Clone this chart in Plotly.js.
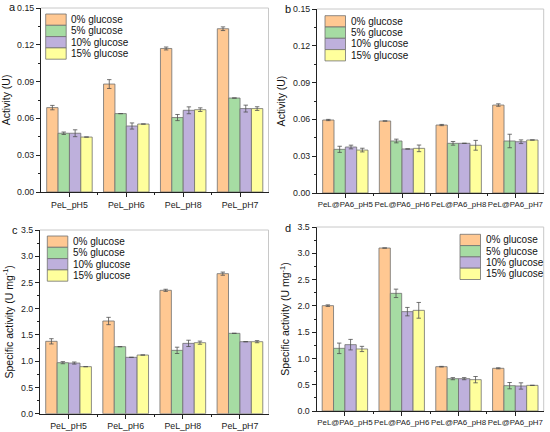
<!DOCTYPE html>
<html><head><meta charset="utf-8">
<script src="https://cdn.plot.ly/plotly-3.0.1.min.js"></script>
<style>html,body{margin:0;padding:0;background:#fff}</style>
</head><body><div id="chart" style="width:550px;height:432px"></div>
<script>
const seriesNames = ['0% glucose','5% glucose','10% glucose','15% glucose'];
const seriesColors = ['#FFC892','#A6DCA3','#BEB0DC','#FFFF9C'];
const catsFree = ['PeL_pH5','PeL_pH6','PeL_pH8','PeL_pH7'];
const catsImm = ['PeL@PA6_pH5','PeL@PA6_pH6','PeL@PA6_pH8','PeL@PA6_pH7'];

// Panel a: Activity (U), free PeL
const a_g0 = [0.0688,0.0880,0.1170,0.1331];
const a_g0e = [0.0018,0.0036,0.0012,0.0015];
const a_g5 = [0.0479,0.0639,0.0607,0.0766];
const a_g5e = [0.0010,null,0.0025,null];
const a_g10 = [0.0479,0.0538,0.0666,0.0680];
const a_g10e = [0.0028,0.0025,0.0028,0.0028];
const a_g15 = [0.0448,0.0554,0.0671,0.0680];
const a_g15e = [null,null,0.0015,0.0015];

// Panel b: Activity (U), PeL@PA6
const b_g0 = [0.0595,0.0587,0.0554,0.0717];
const b_g0e = [0.0005,null,0.0005,0.0010];
const b_g5 = [0.0356,0.0424,0.0405,0.0424];
const b_g5e = [0.0025,0.0015,0.0015,0.0055];
const b_g10 = [0.0375,0.0359,0.0405,0.0418];
const b_g10e = [0.0015,null,null,0.0015];
const b_g15 = [0.0350,0.0364,0.0389,0.0432];
const b_g15e = [0.0015,0.0027,0.0040,null];

// Panel c: Specific activity, free PeL
const c_g0 = [1.379,1.766,2.351,2.668];
const c_g0e = [0.05,0.07,0.02,0.03];
const c_g5 = [0.972,1.277,1.207,1.531];
const c_g5e = [0.02,null,0.06,null];
const c_g10 = [0.965,1.074,1.340,1.372];
const c_g10e = [0.02,null,0.06,null];
const c_g15 = [0.896,1.118,1.353,1.372];
const c_g15e = [null,null,0.03,0.02];

// Panel d: Specific activity, PeL@PA6
const d_g0 = [2.004,3.100,0.843,0.812];
const d_g0e = [0.015,null,0.006,0.010];
const d_g5 = [1.192,2.238,0.615,0.482];
const d_g5e = [0.10,0.08,0.02,0.06];
const d_g10 = [1.262,1.890,0.615,0.476];
const d_g10e = [0.10,0.08,0.02,0.06];
const d_g15 = [1.180,1.915,0.596,0.488];
const d_g15e = [0.05,0.15,0.06,null];

const panels = [
  {cats: catsFree, vals:[a_g0,a_g5,a_g10,a_g15], errs:[a_g0e,a_g5e,a_g10e,a_g15e]},
  {cats: catsImm,  vals:[b_g0,b_g5,b_g10,b_g15], errs:[b_g0e,b_g5e,b_g10e,b_g15e]},
  {cats: catsFree, vals:[c_g0,c_g5,c_g10,c_g15], errs:[c_g0e,c_g5e,c_g10e,c_g15e]},
  {cats: catsImm,  vals:[d_g0,d_g5,d_g10,d_g15], errs:[d_g0e,d_g5e,d_g10e,d_g15e]}
];

const W = 550, H = 432;
const px = x => x / W;
const py = y => 1 - y / H;

// plot areas in pixels: [left, right, top, bottom]
const boxes = [[41,268.5,8,192],[317,543.7,9,193],[40,268.5,230,413.7],[316.5,543.7,227,411]];
const legendPos = [[45.7,69.3,14],[325,349,15.7],[47.3,71,236],[460,484,234.3]];
const rowH = 11.3, swW = 20.5;

const data = [];
panels.forEach((p, k) => {
  const ax = k === 0 ? '' : String(k + 1);
  const xIdx = p.cats.map((c, i) => i);
  p.vals.forEach((v, s) => {
    data.push({
      type: 'bar', x: xIdx, y: v, name: seriesNames[s], showlegend: false,
      xaxis: 'x' + ax, yaxis: 'y' + ax,
      marker: {color: seriesColors[s], line: {color: '#707070', width: 0.8}},
      error_y: {type: 'data', array: p.errs[s], visible: true, color: '#505050', thickness: 0.8, width: 2.2},
      hoverinfo: 'skip'
    });
  });
});

const font = {family: 'Liberation Sans, Arial, sans-serif', color: '#222'};
const layout = {
  width: W, height: H, margin: {l:0, r:0, t:0, b:0},
  paper_bgcolor: '#fff', plot_bgcolor: '#fff',
  font: font, barmode: 'group', bargap: 0.2, bargroupgap: 0,
  showlegend: false, shapes: [], annotations: []
};

panels.forEach((p, k) => {
  const ax = k === 0 ? '' : String(k + 1);
  const b = boxes[k];
  const isAct = k < 2;
  layout['xaxis' + ax] = {
    domain: [px(b[0]), px(b[1])], anchor: 'y' + ax, range: [-0.5, 3.5],
    tickmode: 'array', tickvals: p.cats.map((c, i) => i), ticktext: p.cats, tickangle: 0,
    ticks: 'outside', ticklen: 4, tickwidth: 1, tickcolor: '#222',
    minor: {tickmode: 'array', tickvals: [0.5, 1.5, 2.5], ticks: 'outside', ticklen: 2, tickcolor: '#222'},
    showline: true, linecolor: '#222', linewidth: 1, showgrid: false, zeroline: false,
    tickfont: {size: k % 2 === 0 ? 8.8 : 7.9, color: '#222'}, fixedrange: true
  };
  layout['yaxis' + ax] = {
    domain: [py(b[3]), py(b[2])], anchor: 'x' + ax,
    range: isAct ? [0, 0.15] : [0, 3.5],
    dtick: isAct ? 0.03 : 0.5, tick0: 0, tickformat: isAct ? '.2f' : '.1f',
    ticks: 'outside', ticklen: 4, tickwidth: 1, tickcolor: '#222',
    minor: {dtick: isAct ? 0.015 : 0.25, ticks: 'outside', ticklen: 2, tickcolor: '#222'},
    showline: true, linecolor: '#222', linewidth: 1, showgrid: false, zeroline: false,
    tickfont: {size: 8.8, color: '#222'},
    title: {text: isAct ? 'Activity (U)' : 'Specific activity (U mg<sup>-1</sup>)', font: {size: 10.5, color: '#111'}, standoff: 5},
    fixedrange: true
  };
  // light frame top/right
  layout.shapes.push({type:'line', xref:'x'+ax+' domain', yref:'y'+ax+' domain', x0:0, x1:1, y0:1, y1:1, line:{color:'#c8c8c8', width:1}});
  layout.shapes.push({type:'line', xref:'x'+ax+' domain', yref:'y'+ax+' domain', x0:1, x1:1, y0:0, y1:1, line:{color:'#c8c8c8', width:1}});
  // custom legend
  const L = legendPos[k];
  seriesNames.forEach((nm, s) => {
    const y0 = L[2] + s * rowH;
    layout.shapes.push({type:'rect', xref:'paper', yref:'paper', x0:px(L[0]), x1:px(L[0]+swW), y0:py(y0), y1:py(y0+rowH),
      fillcolor: seriesColors[s], line:{color:'#707070', width:0.8}});
    layout.annotations.push({xref:'paper', yref:'paper', x:px(L[1]), y:py(y0+rowH/2), text:nm, showarrow:false,
      xanchor:'left', yanchor:'middle', font:{size:10, color:'#111'}});
  });
});

const letters = [['a',12,7],['b',288,9],['c',15,230],['d',288,228]];
letters.forEach(l => layout.annotations.push({xref:'paper', yref:'paper', x:px(l[1]), y:py(l[2]), text:l[0], showarrow:false,
  xanchor:'center', yanchor:'middle', font:{size:11, color:'#111'}}));

Plotly.newPlot('chart', data, layout, {staticPlot: true, displayModeBar: false});
</script></body></html>
